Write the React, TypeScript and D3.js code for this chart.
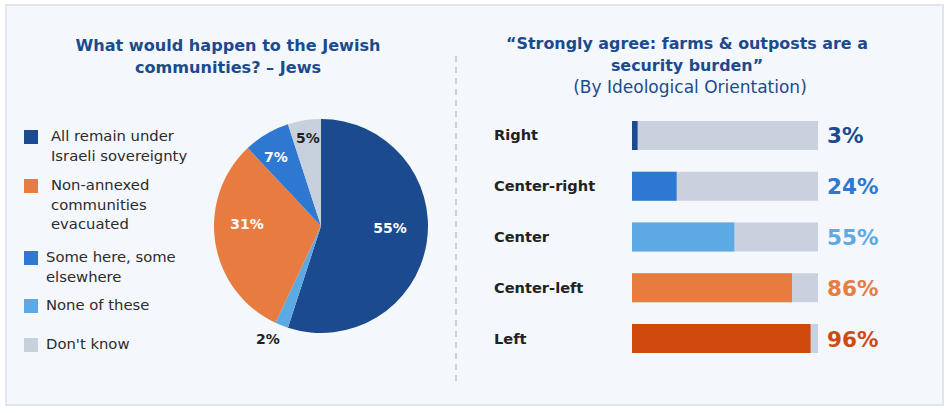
import React from 'react';
import * as d3 from 'd3';

// left panel: pie, legend order
const pieCategories = [
	'All remain under|Israeli sovereignty',
	'Non-annexed|communities|evacuated',
	'Some here, some|elsewhere',
	'None of these',
	"Don't know",
];
const pieValues = [55, 31, 7, 2, 5];
const pieColors = ['#1b4a8e', '#e87b3f', '#2f78d2', '#5da9e4', '#c7d1dd'];
// drawing order clockwise from 12 o'clock
const pieOrder = [0, 3, 1, 2, 4];

// right panel: bars
const barCategories = ['Right', 'Center-right', 'Center', 'Center-left', 'Left'];
const barValues = [3, 24, 55, 86, 96];
const barColors = ['#1b4a8e', '#2f78d2', '#5da9e4', '#e87b3f', '#d14a0d'];

const FONT = "'DejaVu Sans', sans-serif";
const TITLE = '#1c4a8e';

export default function App() {
	const width = 948;
	const height = 413;

	// pie
	const cx = 321, cy = 226, r = 107;
	const ordered = pieOrder.map(i => ({ i, v: pieValues[i] }));
	const arcs = d3.pie<{ i: number; v: number }>().sort(null).value(d => d.v)(ordered);
	const arc = d3.arc<d3.PieArcDatum<{ i: number; v: number }>>().innerRadius(0).outerRadius(r);
	const labelPos: Record<number, [number, number, string]> = {
		0: [390, 229, '#fff'],
		1: [247, 225, '#fff'],
		2: [276, 158, '#fff'],
		3: [268, 340, '#222'],
		4: [308, 139, '#222'],
	};
	const legendY = [136, 185, 257, 305, 344];
	const legendTextX = [51, 51, 46, 46, 46];

	// bars
	const x = d3.scaleLinear().domain([0, 100]).range([632, 818]);
	const y = d3.scaleBand().domain(barCategories).range([121, 353]).paddingInner(0.4286).paddingOuter(0);

	return (
		<svg width={width} height={height} style={{ position: 'absolute', left: 0, top: 0 }} fontFamily={FONT}>
			<rect x={0} y={0} width={width} height={height} fill="#fff" />
			<rect x={6} y={5} width={937} height={400} fill="#f4f7fc" stroke="#dfe6ef" strokeWidth={2} />

			<text x={228} y={51} textAnchor="middle" fontSize={16.1} fontWeight={700} fill={TITLE}>What would happen to the Jewish</text>
			<text x={228} y={73} textAnchor="middle" fontSize={16.1} fontWeight={700} fill={TITLE}>communities? – Jews</text>

			<line x1={456} x2={456} y1={56} y2={386} stroke="#bfc5cc" strokeWidth={1.5} strokeDasharray="6,5" />

			{arcs.map(a => (
				<path key={a.data.i} d={arc(a) || ''} transform={`translate(${cx},${cy})`} fill={pieColors[a.data.i]} />
			))}
			{arcs.map(a => {
				const [lx, ly, c] = labelPos[a.data.i];
				return (
					<text key={'l' + a.data.i} x={lx} y={ly} textAnchor="middle" dominantBaseline="middle" fontSize={14} fontWeight={700} fill={c}>
						{pieValues[a.data.i]}%
					</text>
				);
			})}

			{pieCategories.map((c, i) => (
				<g key={c}>
					<rect x={24} y={legendY[i] - 6} width={14} height={14} fill={pieColors[i]} />
					{c.split('|').map((ln, j) => (
						<text key={j} x={legendTextX[i]} y={legendY[i] + 1 + j * 19.5} dominantBaseline="middle" fontSize={14.8} fill="#2b2b2b">{ln}</text>
					))}
				</g>
			))}

			<text x={687} y={49} textAnchor="middle" fontSize={15.9} fontWeight={700} fill={TITLE}>“Strongly agree: farms &amp; outposts are a</text>
			<text x={687} y={71} textAnchor="middle" fontSize={15.9} fontWeight={700} fill={TITLE}>security burden”</text>
			<text x={690} y={93} textAnchor="middle" fontSize={17} fill={TITLE}>(By Ideological Orientation)</text>

			{barCategories.map((c, i) => {
				const by = y(c) as number;
				const bh = y.bandwidth();
				return (
					<g key={c}>
						<text x={494} y={by + bh / 2 + 1} dominantBaseline="middle" fontSize={14.6} fontWeight={700} fill="#222">{c}</text>
						<rect x={x(0)} y={by} width={x(100) - x(0)} height={bh} fill="#c8d1dd" />
						<rect x={x(0)} y={by} width={x(barValues[i]) - x(0)} height={bh} fill={barColors[i]} />
						<text x={827} y={by + bh / 2 + 2} dominantBaseline="middle" fontSize={21.5} fontWeight={700} fill={barColors[i]}>{barValues[i]}%</text>
					</g>
				);
			})}
		</svg>
	);
}
